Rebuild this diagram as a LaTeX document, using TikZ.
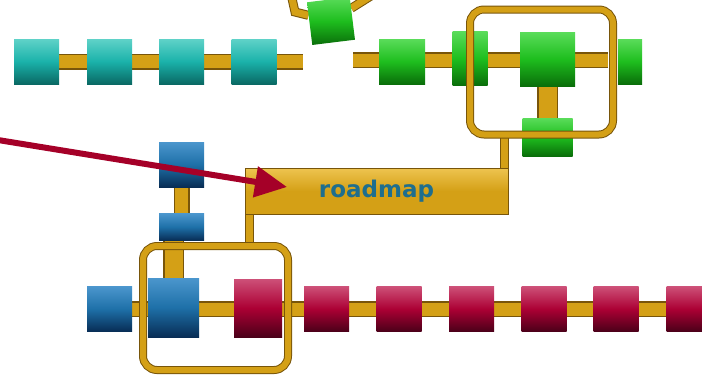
\documentclass[tikz,border=0pt]{standalone}
\usepackage{fontspec}
\usetikzlibrary{arrows.meta,backgrounds}
\newfontfamily\mapfont{DejaVu Sans}
\definecolor{cus-teal}{RGB}{26, 178, 170}
\definecolor{cus-teal1}{RGB}{95, 210, 200}
\definecolor{cus-teal2}{RGB}{10, 105, 100}
\definecolor{cus-green}{RGB}{30, 190, 30}
\definecolor{cus-green1}{RGB}{90, 220, 90}
\definecolor{cus-green2}{RGB}{10, 110, 10}
\definecolor{cus-blue}{RGB}{30, 112, 168}
\definecolor{cus-blue1}{RGB}{75, 150, 205}
\definecolor{cus-blue2}{RGB}{8, 45, 85}
\definecolor{cus-red}{RGB}{172, 0, 52}
\definecolor{cus-red1}{RGB}{205, 80, 120}
\definecolor{cus-red2}{RGB}{75, 0, 25}
\definecolor{cus-gold}{RGB}{212, 160, 22}
\definecolor{cus-gold1}{RGB}{238, 196, 80}
\definecolor{cus-gold2}{RGB}{120, 85, 10}
\definecolor{cus-arrow}{RGB}{165, 0, 40}
\definecolor{cus-text}{RGB}{30, 110, 142}
\tikzset{
  sq/.style={rectangle, inner sep=0pt, minimum width=45pt, minimum height=45pt},
  teal sq/.style={sq, top color=cus-teal1, bottom color=cus-teal2, middle color=cus-teal},
  green sq/.style={sq, top color=cus-green1, bottom color=cus-green2, middle color=cus-green},
  blue sq/.style={sq, top color=cus-blue1, bottom color=cus-blue2, middle color=cus-blue},
  red sq/.style={sq, top color=cus-red1, bottom color=cus-red2, middle color=cus-red},
  bar/.style={draw=cus-gold2, double=cus-gold, double distance=13pt, line width=1.5pt},
  thin bar/.style={draw=cus-gold2, double=cus-gold, double distance=7pt, line width=1pt},
  frame/.style={rectangle, draw=cus-gold2, double=cus-gold, double distance=6pt, line width=1pt,
    rounded corners=14pt, inner sep=0pt},
  stem/.style={draw=cus-gold2, double=cus-gold, double distance=7pt, line width=1pt}
}
\begin{document}
\begin{tikzpicture}[x=1pt, y=-1pt]
\useasboundingbox (0,0) rectangle (702,378);

% top left row
\foreach \i/\x in {1/36.5, 2/109.5, 3/181.5, 4/254}
  \node [teal sq] (t\i) at (\x, 61.5) {};
\coordinate (tEnd) at (303, 61.5);

% tilted green square
\node [green sq, minimum size=43pt, rotate=7] (g0) at (331, 21) {};

% green row
\coordinate (gStart) at (353, 60);
\coordinate (gEnd) at (608, 60);
\node [green sq, minimum width=46pt] (g1) at (402, 61.5) {};
\node [green sq, minimum width=35pt, minimum height=54pt] (g2) at (470, 58.5) {};
\node [green sq, minimum width=55pt, minimum height=54pt] (g3) at (547.5, 59) {};
\node [green sq, minimum width=24pt] (g4) at (630, 61.5) {};
\node [green sq, minimum width=50pt, minimum height=38pt] (g5) at (547.5, 137) {};

% blue column and row
\node [blue sq] (b1) at (181.5, 164.5) {};
\node [blue sq, minimum height=27pt] (b2) at (181.5, 227) {};
\node [blue sq, minimum width=51pt, minimum height=59pt] (bB) at (173.5, 307.5) {};
\node [blue sq] (bL) at (109.5, 309) {};

% red row
\node [red sq, minimum width=48pt, minimum height=58pt] (rB) at (258, 308) {};
\foreach \i/\x in {1/326.5, 2/399, 3/471.5, 4/544, 5/616, 6/689}
  \node [red sq] (r\i) at (\x, 309) {};
\coordinate (rEnd) at (710, 309);

% frames
\node [frame, minimum width=143pt, minimum height=125pt] (frameG) at (541.5, 72) {};
\node [frame, minimum width=145pt, minimum height=124pt] (frameB) at (215.5, 308) {};

% roadmap box
\node [rectangle, inner sep=0pt, minimum width=263pt, minimum height=46pt,
  top color=cus-gold1, bottom color=cus-gold, middle color=cus-gold,
  draw=cus-gold2, line width=1pt] (roadbox) at (376.5, 191)
  {\mapfont\bfseries\fontsize{23}{23}\selectfont\color{cus-text}roadmap};

\begin{scope}[on background layer]
  \draw [bar] (t1) -- (tEnd);
  \draw [thin bar] (291,-6) -- (295,12) -- (g0);
  \draw [thin bar] (g0) -- (374,-6);
  \draw [bar] (gStart) -- (gEnd);
  \draw [bar, double distance=18pt] (g3) -- (g5);
  \draw [bar] (b1) -- (b1 |- b2.north);
  \draw [bar, double distance=18pt] (bB |- b2.south) -- (bB);
  \draw [bar] (bL) -- (rEnd);
  \draw [stem] ([xshift=-4.5pt]roadbox.north east) -- ([xshift=-4.5pt]roadbox.north east |- frameG.south);
  \draw [stem] ([xshift=5pt]roadbox.south west) -- ([xshift=5pt]roadbox.south west |- frameB.north);
\end{scope}

% pointer
\coordinate (aStart) at (-2, 140);
\coordinate (aTip) at (287, 187);
\draw [cus-arrow, line width=6pt, -{Triangle[length=32pt, width=30pt]}] (aStart) -- (aTip);
\end{tikzpicture}
\end{document}
